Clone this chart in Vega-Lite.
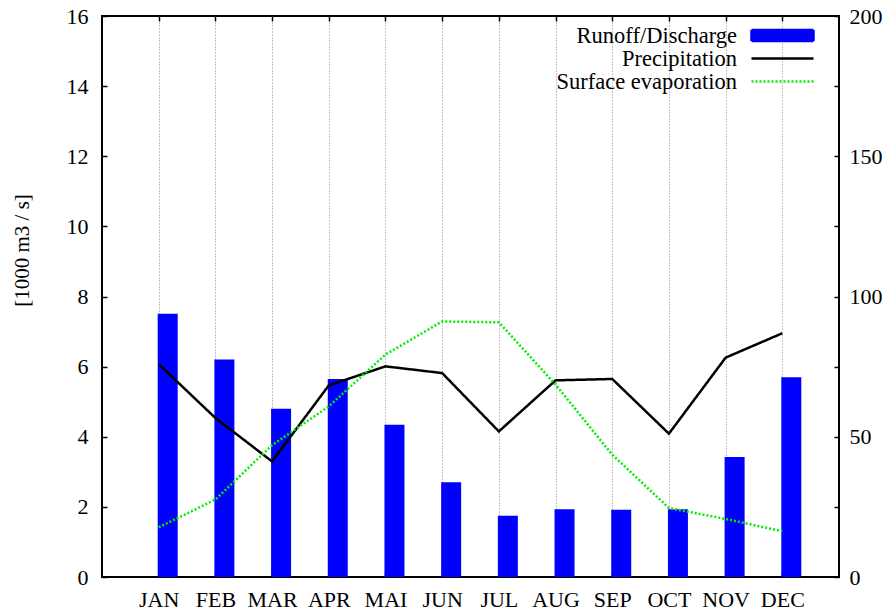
{
  "$schema": "https://vega.github.io/schema/vega-lite/v6.json",
  "width": 737,
  "height": 561,
  "autosize": {"type": "none"},
  "padding": {"left": 102, "top": 16, "right": 57, "bottom": 36},
  "background": "white",
  "config": {
    "view": {"stroke": "black", "strokeWidth": 2},
    "font": "Times New Roman, Liberation Serif, serif",
    "axis": {
      "labelFont": "Times New Roman, Liberation Serif, serif",
      "labelFontSize": 22,
      "labelColor": "black",
      "titleFont": "Times New Roman, Liberation Serif, serif",
      "titleFontSize": 21,
      "titleFontWeight": "normal",
      "titleColor": "black",
      "domain": false,
      "grid": false,
      "tickColor": "black",
      "tickWidth": 1.5,
      "tickSize": -5,
      "gridColor": "#888888",
      "gridDash": [1, 2],
      "gridWidth": 1
    }
  },
  "data": {
    "values": [
      {"month": 1, "runoff": 7.51, "Precipitation": 75.9, "Surface evaporation": 17.7},
      {"month": 2, "runoff": 6.20, "Precipitation": 56.7, "Surface evaporation": 27.6},
      {"month": 3, "runoff": 4.80, "Precipitation": 41.2, "Surface evaporation": 47.0},
      {"month": 4, "runoff": 5.65, "Precipitation": 68.3, "Surface evaporation": 60.8},
      {"month": 5, "runoff": 4.34, "Precipitation": 75.1, "Surface evaporation": 79.3},
      {"month": 6, "runoff": 2.70, "Precipitation": 72.7, "Surface evaporation": 91.1},
      {"month": 7, "runoff": 1.75, "Precipitation": 51.9, "Surface evaporation": 90.8},
      {"month": 8, "runoff": 1.93, "Precipitation": 70.1, "Surface evaporation": 68.6},
      {"month": 9, "runoff": 1.92, "Precipitation": 70.6, "Surface evaporation": 43.6},
      {"month": 10, "runoff": 1.93, "Precipitation": 51.1, "Surface evaporation": 24.6},
      {"month": 11, "runoff": 3.42, "Precipitation": 78.2, "Surface evaporation": 20.7},
      {"month": 12, "runoff": 5.70, "Precipitation": 86.9, "Surface evaporation": 16.3}
    ]
  },
  "layer": [
    {
      "mark": {"type": "bar", "size": 20, "xOffset": 9, "color": "#0000ff"},
      "encoding": {
        "x": {
          "field": "month",
          "type": "quantitative",
          "scale": {"domain": [0, 13], "nice": false, "zero": false, "padding": 0},
          "axis": {
            "orient": "bottom",
            "values": [1, 2, 3, 4, 5, 6, 7, 8, 9, 10, 11, 12],
            "labelExpr": "['','JAN','FEB','MAR','APR','MAI','JUN','JUL','AUG','SEP','OCT','NOV','DEC',''][datum.value]",
            "grid": true,
            "title": null,
            "labelAngle": 0,
            "labelPadding": 17
          }
        },
        "y": {
          "field": "runoff",
          "type": "quantitative",
          "scale": {"domain": [0, 16], "nice": false},
          "axis": {
            "orient": "left",
            "values": [0, 2, 4, 6, 8, 10, 12, 14, 16],
            "grid": false,
            "title": "[1000 m3 / s]",
            "titleX": -80,
            "titleY": 234,
            "titleAngle": 270,
            "titleAlign": "center",
            "titleBaseline": "middle",
            "labelPadding": 19
          }
        },
        "color": {
          "datum": "Runoff/Discharge",
          "type": "nominal",
          "scale": {
            "domain": ["Runoff/Discharge", "Precipitation", "Surface evaporation"],
            "range": ["#0000ff", "#000000", "#00ee00"]
          },
          "legend": {
            "orient": "none",
            "legendX": 669,
            "legendY": 8,
            "title": null,
            "padding": 0,
            "labelAlign": "right",
            "labelOffset": -57,
            "symbolOffset": 0,
            "labelFont": "Times New Roman, Liberation Serif, serif",
            "labelFontSize": 22.5,
            "labelColor": "black",
            "labelLimit": 400,
            "symbolSize": 400,
            "rowPadding": 0,
            "encode": {
              "symbols": {
                "update": {
                  "shape": {"signal": "datum.value === 'Runoff/Discharge' ? 'M-3.1,-0.55H3.1V0.55H-3.1Z' : 'M-3.1,0H3.1'"},
                  "fill": {"signal": "datum.value === 'Runoff/Discharge' ? '#0000ff' : 'transparent'"},
                  "stroke": {"signal": "datum.value === 'Runoff/Discharge' ? 'transparent' : (datum.value === 'Precipitation' ? '#000000' : '#00ee00')"},
                  "strokeDash": {"signal": "datum.value === 'Surface evaporation' ? [2, 2] : [1, 0]"},
                  "strokeWidth": {"value": 2.5},
                  "opacity": {"value": 1},
                  "fillOpacity": {"value": 1},
                  "strokeOpacity": {"value": 1}
                }
              }
            }
          }
        }
      }
    },
    {
      "transform": [
        {"fold": ["Precipitation", "Surface evaporation"], "as": ["series", "value"]}
      ],
      "mark": {"type": "line", "strokeWidth": 2.5},
      "encoding": {
        "x": {
          "field": "month",
          "type": "quantitative",
          "axis": {
            "orient": "top",
            "values": [1, 2, 3, 4, 5, 6, 7, 8, 9, 10, 11, 12],
            "labels": false,
            "grid": false,
            "title": null
          }
        },
        "y": {
          "field": "value",
          "type": "quantitative",
          "scale": {"domain": [0, 200], "nice": false},
          "axis": {
            "orient": "right",
            "values": [0, 25, 50, 75, 100, 125, 150, 175, 200],
            "labelExpr": "datum.value % 50 === 0 ? datum.label : ''",
            "grid": false,
            "title": null,
            "labelPadding": 15
          }
        },
        "color": {"field": "series", "type": "nominal", "legend": null},
        "strokeDash": {
          "field": "series",
          "type": "nominal",
          "scale": {"domain": ["Precipitation", "Surface evaporation"], "range": [[1, 0], [2, 2]]},
          "legend": null
        }
      }
    }
  ],
  "resolve": {"scale": {"y": "independent"}}
}
